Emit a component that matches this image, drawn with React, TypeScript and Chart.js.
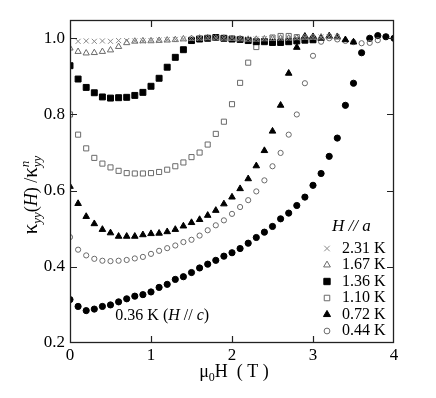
import React, { useEffect, useRef } from "react";
import { Chart, registerables } from "chart.js";

Chart.register(...registerables);

const FONT = '"Liberation Serif", serif';

const fields = [0.0, 0.1, 0.2, 0.3, 0.4, 0.5, 0.6, 0.7, 0.8, 0.9, 1.0, 1.1, 1.2, 1.3, 1.4, 1.5, 1.6, 1.7, 1.8, 1.9, 2.0, 2.1, 2.2, 2.3, 2.4, 2.5, 2.6, 2.7, 2.8, 2.9, 3.0, 3.1, 3.2, 3.3, 3.4, 3.5, 3.6, 3.7, 3.8, 3.9, 4.0];

const k231 = [null, 0.992, 0.993, 0.992, 0.993, 0.992, 0.994, 0.994, 0.993, 0.993, 0.994, 0.995, 0.996, 0.997, 0.998, 0.999, 1.0, 1.001, 1.001, 1.0, 1.0, 0.999, 0.998, 0.998, 0.999, 1.0, 1.0, 1.0, 1.001, 1.002, 1.002, 1.003, 1.004, 1.003, null, null, null, null, null, null, null];
const k167 = [0.974, 0.965, 0.961, 0.962, 0.965, 0.969, 0.978, 0.988, 0.992, 0.993, 0.993, 0.994, 0.995, 0.996, 0.998, 0.999, 1.0, 1.001, 1.0, 1.0, 0.999, 0.998, 0.997, 0.997, 0.998, 0.999, 1.0, 1.0, 1.001, 1.002, 1.002, 1.003, 1.004, 1.003, null, null, null, null, null, null, null];
const k136 = [0.928, 0.893, 0.871, 0.857, 0.846, 0.843, 0.844, 0.845, 0.85, 0.858, 0.874, 0.895, 0.924, 0.95, 0.97, 0.994, 0.998, 1.0, 1.002, 1.0, 0.998, 0.997, 0.994, 0.991, 0.991, 0.989, 0.989, 0.991, 0.993, 0.995, 0.996, null, null, null, null, null, null, null, null, null, null];
const k110 = [0.8, 0.747, 0.711, 0.686, 0.671, 0.661, 0.652, 0.646, 0.645, 0.645, 0.646, 0.649, 0.655, 0.664, 0.674, 0.688, 0.7, 0.721, 0.749, 0.781, 0.827, 0.883, 0.936, 0.977, 0.993, 1.002, 1.006, 1.006, 1.003, 0.998, 0.996, null, null, null, null, null, null, null, null, null, null];
const k072 = [0.611, 0.566, 0.532, 0.513, 0.498, 0.489, 0.48, 0.48, 0.48, 0.484, 0.487, 0.488, 0.492, 0.498, 0.507, 0.516, 0.524, 0.535, 0.548, 0.565, 0.583, 0.605, 0.631, 0.665, 0.705, 0.756, 0.824, 0.908, 0.976, 1.005, 1.004, 1.0, 1.006, 1.004, 0.996, 0.99, null, null, null, null, null];
const k044 = [0.478, 0.445, 0.43, 0.421, 0.416, 0.415, 0.416, 0.418, 0.422, 0.426, 0.434, 0.442, 0.449, 0.456, 0.465, 0.471, 0.482, 0.496, 0.509, 0.522, 0.539, 0.557, 0.575, 0.598, 0.627, 0.664, 0.699, 0.747, 0.8, 0.882, 0.954, 0.991, 1.0, 0.997, 0.993, 0.99, 0.987, 0.988, 0.995, null, null];
const k036 = [0.314, 0.296, 0.285, 0.289, 0.296, 0.3, 0.308, 0.316, 0.323, 0.327, 0.334, 0.346, 0.354, 0.367, 0.374, 0.385, 0.397, 0.407, 0.417, 0.428, 0.437, 0.448, 0.462, 0.477, 0.491, 0.506, 0.526, 0.541, 0.561, 0.583, 0.614, 0.645, 0.69, 0.738, 0.824, 0.882, 0.962, 1.0, 1.007, 1.004, 1.0];

const legendLabels = ["2.31 K", "1.67 K", "1.36 K", "1.10 K", "0.72 K", "0.44 K"];
const annotationLabel = "0.36 K";
const xTicks = [0, 1, 2, 3, 4];
const yTicks = [0.2, 0.4, 0.6, 0.8, 1.0];

type Sty = { style: string; radius: number; fill: string; stroke: string };
const styles: Sty[] = [
  { style: "crossRot", radius: 3.6, fill: "rgba(0,0,0,0)", stroke: "#8a8a8a" },
  { style: "triangle", radius: 3.6, fill: "rgba(0,0,0,0)", stroke: "#6a6a6a" },
  { style: "rect", radius: 4.2, fill: "#000", stroke: "#000" },
  { style: "rect", radius: 3.6, fill: "rgba(0,0,0,0)", stroke: "#6a6a6a" },
  { style: "triangle", radius: 3.8, fill: "#000", stroke: "#000" },
  { style: "circle", radius: 2.6, fill: "rgba(0,0,0,0)", stroke: "#6a6a6a" },
  { style: "circle", radius: 3.1, fill: "#000", stroke: "#000" },
];

const seriesValues = [k231, k167, k136, k110, k072, k044, k036];
const seriesNames = [...legendLabels, annotationLabel];

function toPoints(vals: (number | null)[]) {
  const out: { x: number; y: number }[] = [];
  vals.forEach((v, i) => {
    if (v !== null) out.push({ x: fields[i], y: v });
  });
  return out;
}

function drawSymbol(ctx: CanvasRenderingContext2D, s: Sty, x: number, y: number) {
  const r = s.radius;
  ctx.save();
  ctx.beginPath();
  ctx.lineWidth = 1;
  ctx.strokeStyle = s.stroke;
  ctx.fillStyle = s.fill;
  if (s.style === "circle") {
    ctx.arc(x, y, r, 0, Math.PI * 2);
  } else if (s.style === "rect") {
    const h = r * Math.SQRT1_2;
    ctx.rect(x - h, y - h, 2 * h, 2 * h);
  } else if (s.style === "triangle") {
    const a = (2 * Math.PI) / 3;
    ctx.moveTo(x, y - r);
    ctx.lineTo(x + Math.sin(a) * r, y - Math.cos(a) * r);
    ctx.lineTo(x + Math.sin(2 * a) * r, y - Math.cos(2 * a) * r);
    ctx.closePath();
  } else if (s.style === "crossRot") {
    const h = r * Math.SQRT1_2;
    ctx.moveTo(x - h, y - h);
    ctx.lineTo(x + h, y + h);
    ctx.moveTo(x - h, y + h);
    ctx.lineTo(x + h, y - h);
  }
  if (s.style !== "crossRot") ctx.fill();
  ctx.stroke();
  ctx.restore();
}

type Part = { t: string; size: number; italic?: boolean; dy?: number; stackWith?: Part };

function drawParts(ctx: CanvasRenderingContext2D, parts: Part[], cx: number, baseline: number) {
  const fontOf = (p: Part) => `${p.italic ? "italic " : ""}${p.size}px ${FONT}`;
  const widthOf = (p: Part) => {
    ctx.font = fontOf(p);
    let w = ctx.measureText(p.t).width;
    if (p.stackWith) {
      ctx.font = fontOf(p.stackWith);
      w = Math.max(w, ctx.measureText(p.stackWith.t).width);
    }
    return w;
  };
  const total = parts.reduce((acc, p) => acc + widthOf(p), 0);
  let x = cx - total / 2;
  ctx.textBaseline = "alphabetic";
  ctx.textAlign = "left";
  for (const p of parts) {
    const w = widthOf(p);
    ctx.font = fontOf(p);
    ctx.fillText(p.t, x, baseline + (p.dy || 0));
    if (p.stackWith) {
      ctx.font = fontOf(p.stackWith);
      ctx.fillText(p.stackWith.t, x, baseline + (p.stackWith.dy || 0));
    }
    x += w;
  }
}

const decorPlugin = {
  id: "decor",
  afterDraw(chart: any) {
    const { ctx, chartArea: a, scales } = chart;
    const xs = scales.x;
    const ys = scales.y;
    ctx.save();
    ctx.strokeStyle = "#222";
    ctx.lineWidth = 1.3;
    ctx.strokeRect(a.left + 0.5, a.top + 0.5, a.right - a.left - 1, a.bottom - a.top - 1);
    ctx.lineWidth = 1.2;
    ctx.beginPath();
    xTicks.forEach((v) => {
      if (v === xs.min || v === xs.max) return;
      const px = Math.round(xs.getPixelForValue(v)) + 0.5;
      ctx.moveTo(px, a.bottom);
      ctx.lineTo(px, a.bottom - 7);
      ctx.moveTo(px, a.top);
      ctx.lineTo(px, a.top + 7);
    });
    yTicks.forEach((v) => {
      if (v === ys.min) return;
      const py = Math.round(ys.getPixelForValue(v)) + 0.5;
      ctx.moveTo(a.left, py);
      ctx.lineTo(a.left + 7, py);
      ctx.moveTo(a.right, py);
      ctx.lineTo(a.right - 7, py);
    });
    ctx.stroke();

    ctx.fillStyle = "#000";
    drawParts(
      ctx,
      [
        { t: "\u03bc", size: 18 },
        { t: "0", size: 12, dy: 4 },
        { t: "H  ( T )", size: 18 },
      ],
      (a.left + a.right) / 2 + 2,
      377
    );
    ctx.save();
    ctx.translate(37, 195);
    ctx.rotate(-Math.PI / 2);
    drawParts(
      ctx,
      [
        { t: "\u03ba", size: 21 },
        { t: "yy", size: 13, italic: true, dy: 4 },
        { t: "(", size: 18 },
        { t: "H", size: 18, italic: true },
        { t: ") /", size: 18 },
        { t: "\u03ba", size: 21 },
        { t: "n", size: 13, italic: true, dy: -8, stackWith: { t: "yy", size: 13, italic: true, dy: 4 } },
      ],
      0,
      0
    );
    ctx.restore();

    const lx = a.right - 67;
    ctx.font = `italic 17px ${FONT}`;
    ctx.textAlign = "left";
    ctx.textBaseline = "middle";
    ctx.fillText("H // a", a.right - 62, 227);
    legendLabels.forEach((lab, i) => {
      const yy = 248.5 + i * 16.5;
      drawSymbol(ctx, { ...styles[i], radius: styles[i].radius + 0.3 }, lx, yy);
      ctx.fillStyle = "#000";
      ctx.font = `16px ${FONT}`;
      ctx.fillText(lab, a.right - 52, yy);
    });

    const ax = xs.getPixelForValue(0.56);
    const ay = ys.getPixelForValue(0.272);
    ctx.textBaseline = "middle";
    let x = ax;
    const segs: [string, boolean][] = [[annotationLabel + " (", false], ["H", true], [" // ", false], ["c", true], [")", false]];
    segs.forEach(([t, it]) => {
      ctx.font = `${it ? "italic " : ""}16px ${FONT}`;
      ctx.fillText(t, x, ay);
      x += ctx.measureText(t).width;
    });
    ctx.restore();
  },
};

export default function App() {
  const ref = useRef<HTMLCanvasElement | null>(null);
  useEffect(() => {
    if (!ref.current) return;
    const datasets = seriesValues.map((vals, i) => ({
      label: seriesNames[i],
      data: toPoints(vals),
      showLine: false,
      pointStyle: styles[i].style,
      pointRadius: styles[i].radius,
      pointBorderWidth: 1,
      pointBackgroundColor: styles[i].fill,
      pointBorderColor: styles[i].stroke,
      backgroundColor: styles[i].fill,
      borderColor: styles[i].stroke,
    }));
    const chart = new Chart(ref.current, {
      type: "scatter",
      data: { datasets },
      options: {
        responsive: false,
        animation: false,
        devicePixelRatio: 1,
        font: { family: FONT },
        layout: { padding: { top: 20, right: 42, left: 0, bottom: 0 } },
        plugins: { legend: { display: false }, tooltip: { enabled: false } },
        scales: {
          x: {
            type: "linear",
            min: 0,
            max: 4,
            afterFit: (s: any) => {
              s.height = 55;
            },
            afterBuildTicks: (s: any) => {
              s.ticks = xTicks.map((v) => ({ value: v }));
            },
            grid: { display: false, drawTicks: false },
            border: { display: false },
            ticks: {
              color: "#000",
              font: { family: FONT, size: 17 },
              padding: 2,
              maxRotation: 0,
              callback: (v: any) => String(v),
            },
          },
          y: {
            type: "linear",
            min: 0.2,
            max: 1.048,
            afterFit: (s: any) => {
              s.width = 70;
            },
            afterBuildTicks: (s: any) => {
              s.ticks = yTicks.map((v) => ({ value: v }));
            },
            grid: { display: false, drawTicks: false },
            border: { display: false },
            ticks: {
              color: "#000",
              font: { family: FONT, size: 17 },
              padding: 5,
              callback: (v: any) => Number(v).toFixed(1),
            },
          },
        },
      },
      plugins: [decorPlugin],
    } as any);
    return () => chart.destroy();
  }, []);
  return (
    <div style={{ position: "absolute", left: 0, top: 0, width: 436, height: 398, background: "#fff" }}>
      <canvas ref={ref} width={436} height={398} style={{ width: 436, height: 398, display: "block" }} />
    </div>
  );
}
